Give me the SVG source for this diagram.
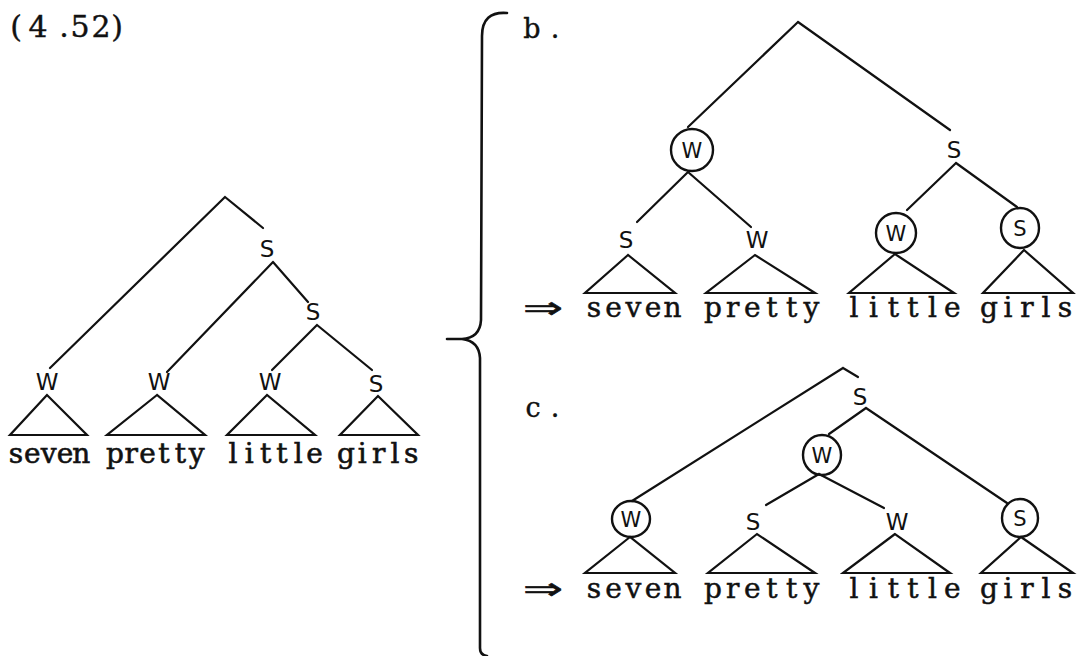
<svg xmlns="http://www.w3.org/2000/svg" width="1082" height="656" viewBox="0 0 1082 656">
<style>
.bg{fill:#ffffff}
.ln{stroke:#111;stroke-width:2.2;fill:none;stroke-linecap:round;stroke-linejoin:round}
.tri{stroke:#111;stroke-width:2.2;fill:none;stroke-linejoin:miter}
.circ{stroke:#111;stroke-width:2.4;fill:none}
.lab{font-family:"DejaVu Sans","Liberation Sans",sans-serif;font-size:23px;fill:#111;text-anchor:middle}
.labs{font-family:"DejaVu Sans","Liberation Sans",sans-serif;font-size:21px;fill:#111;text-anchor:middle}
.wL{font-family:"DejaVu Serif","Liberation Serif",serif;font-size:28px;fill:#111;stroke:#111;stroke-width:0.6;text-anchor:middle}
.wR{font-family:"DejaVu Serif","Liberation Serif",serif;font-size:28px;fill:#111;stroke:#111;stroke-width:0.5;text-anchor:middle}
.tag{font-family:"DejaVu Serif","Liberation Serif",serif;font-size:27px;fill:#111;stroke:#111;stroke-width:0.4;text-anchor:middle}
.num{font-family:"DejaVu Serif","Liberation Serif",serif;font-size:30px;fill:#111;stroke:#111;stroke-width:0.4;text-anchor:middle}
.arr{font-family:"DejaVu Sans",sans-serif;font-size:30px;fill:#111;stroke:#111;stroke-width:0.6}
</style>
<rect class="bg" x="0" y="0" width="1082" height="656"/>

<text id="tag-452" class="num" x="16 38 64 80 101 117" y="37">(4.52)</text>

<!-- connectors -->
<g id="connectors">
  <!-- tree a -->
  <path class="ln" d="M225,197 L50,368 M225,197 L263,228"/>
  <path class="ln" d="M273,262 L167,372 M273,262 L308,302"/>
  <path class="ln" d="M317,325 L272,370 M317,325 L372,370"/>
  <!-- tree b -->
  <path class="ln" d="M798,22 L688,127 M798,22 L950,130"/>
  <path class="ln" d="M688,172 L637,222 M688,172 L751,227"/>
  <path class="ln" d="M956,163 L907,210 M956,163 L1017,207"/>
  <!-- tree c -->
  <path class="ln" d="M843,368 L632,501 M843,368 L858,377"/>
  <path class="ln" d="M866,408 L829,434 M866,408 L1007,503"/>
  <path class="ln" d="M819,474 L766,505 M819,474 L884,508"/>
  <!-- brace -->
  <path class="ln" style="stroke-width:2.6" d="M507,13 Q482,11 482,36 L481,320 Q480,338 462,339 L447,339 M462,339 Q479,341 480,358 L480,648 Q480,655 487,656"/>
</g>

<!-- tree a nodes -->
<g id="a-s1"><text class="lab" x="267" y="257">S</text></g>
<g id="a-s2"><text class="lab" x="313" y="320">S</text></g>
<g id="a-seven">
  <text class="lab" x="47" y="390">W</text>
  <polygon class="tri" points="47,395 10,435 87,435"/>
  <text class="wL" x="16 32.3 48.6 65 81.3" y="463">seven</text>
</g>
<g id="a-pretty">
  <text class="lab" x="159" y="390">W</text>
  <polygon class="tri" points="157,395 107,435 205,435"/>
  <text class="wL" x="115 131.3 147.6 164 180.3 196.6" y="463">pretty</text>
</g>
<g id="a-little">
  <text class="lab" x="270" y="390">W</text>
  <polygon class="tri" points="267,395 227,435 315,435"/>
  <text class="wL" x="233 249.3 265.6 282 298.3 314.6" y="463">little</text>
</g>
<g id="a-girls">
  <text class="lab" x="376" y="392">S</text>
  <polygon class="tri" points="378,396 340,435 418,435"/>
  <text class="wL" x="346 362.3 378.6 395 411.3" y="463">girls</text>
</g>

<!-- tree b -->
<text id="label-b" class="tag" x="532 555" y="38">b.</text>
<g id="b-w"><ellipse class="circ" cx="692" cy="150" rx="21" ry="21"/><text class="labs" x="692" y="158">W</text></g>
<g id="b-s"><text class="lab" x="954" y="158">S</text></g>
<g id="b-seven">
  <text class="lab" x="626" y="248">S</text>
  <polygon class="tri" points="628,255 585,293 675,293"/>
</g>
<g id="b-pretty">
  <text class="lab" x="757" y="248">W</text>
  <polygon class="tri" points="755,255 706,293 815,293"/>
</g>
<g id="b-little">
  <ellipse class="circ" cx="896" cy="233" rx="20" ry="20"/><text class="labs" x="896" y="241">W</text>
  <polygon class="tri" points="895,254 849,293 954,293"/>
</g>
<g id="b-girls">
  <ellipse class="circ" cx="1020" cy="228" rx="19" ry="20"/><text class="labs" x="1020" y="236">S</text>
  <polygon class="tri" points="1024,250 983,293 1073,293"/>
</g>
<g id="b-words">
  <text class="arr" x="523" y="318" textLength="40" lengthAdjust="spacingAndGlyphs">⇒</text>
  <text class="wR" x="594 613.6 633.3 653 672.6" y="317">seven</text>
  <text class="wR" x="713 732.6 752.3 772 791.6 811.3" y="317">pretty</text>
  <text class="wR" x="854 873.6 893.3 913 932.6 952.3" y="317">little</text>
  <text class="wR" x="989 1008 1027 1046 1065" y="317">girls</text>
</g>

<!-- tree c -->
<text id="label-c" class="tag" x="533 555" y="417">c.</text>
<g id="c-s"><text class="lab" x="860" y="405">S</text></g>
<g id="c-w"><ellipse class="circ" cx="822" cy="455" rx="19" ry="20"/><text class="labs" x="822" y="463">W</text></g>
<g id="c-seven">
  <ellipse class="circ" cx="631" cy="519" rx="19" ry="18"/><text class="labs" x="631" y="527">W</text>
  <polygon class="tri" points="630,537 585,573 675,573"/>
</g>
<g id="c-pretty">
  <text class="lab" x="753" y="530">S</text>
  <polygon class="tri" points="757,534 708,573 815,573"/>
</g>
<g id="c-little">
  <text class="lab" x="897" y="530">W</text>
  <polygon class="tri" points="895,534 843,573 950,573"/>
</g>
<g id="c-girls">
  <ellipse class="circ" cx="1020" cy="518" rx="18" ry="19"/><text class="labs" x="1020" y="526">S</text>
  <polygon class="tri" points="1021,537 981,573 1073,573"/>
</g>
<g id="c-words">
  <text class="arr" x="523" y="599" textLength="40" lengthAdjust="spacingAndGlyphs">⇒</text>
  <text class="wR" x="594 613.6 633.3 653 672.6" y="598">seven</text>
  <text class="wR" x="713 732.6 752.3 772 791.6 811.3" y="598">pretty</text>
  <text class="wR" x="854 873.6 893.3 913 932.6 952.3" y="598">little</text>
  <text class="wR" x="989 1008 1027 1046 1065" y="598">girls</text>
</g>
</svg>
